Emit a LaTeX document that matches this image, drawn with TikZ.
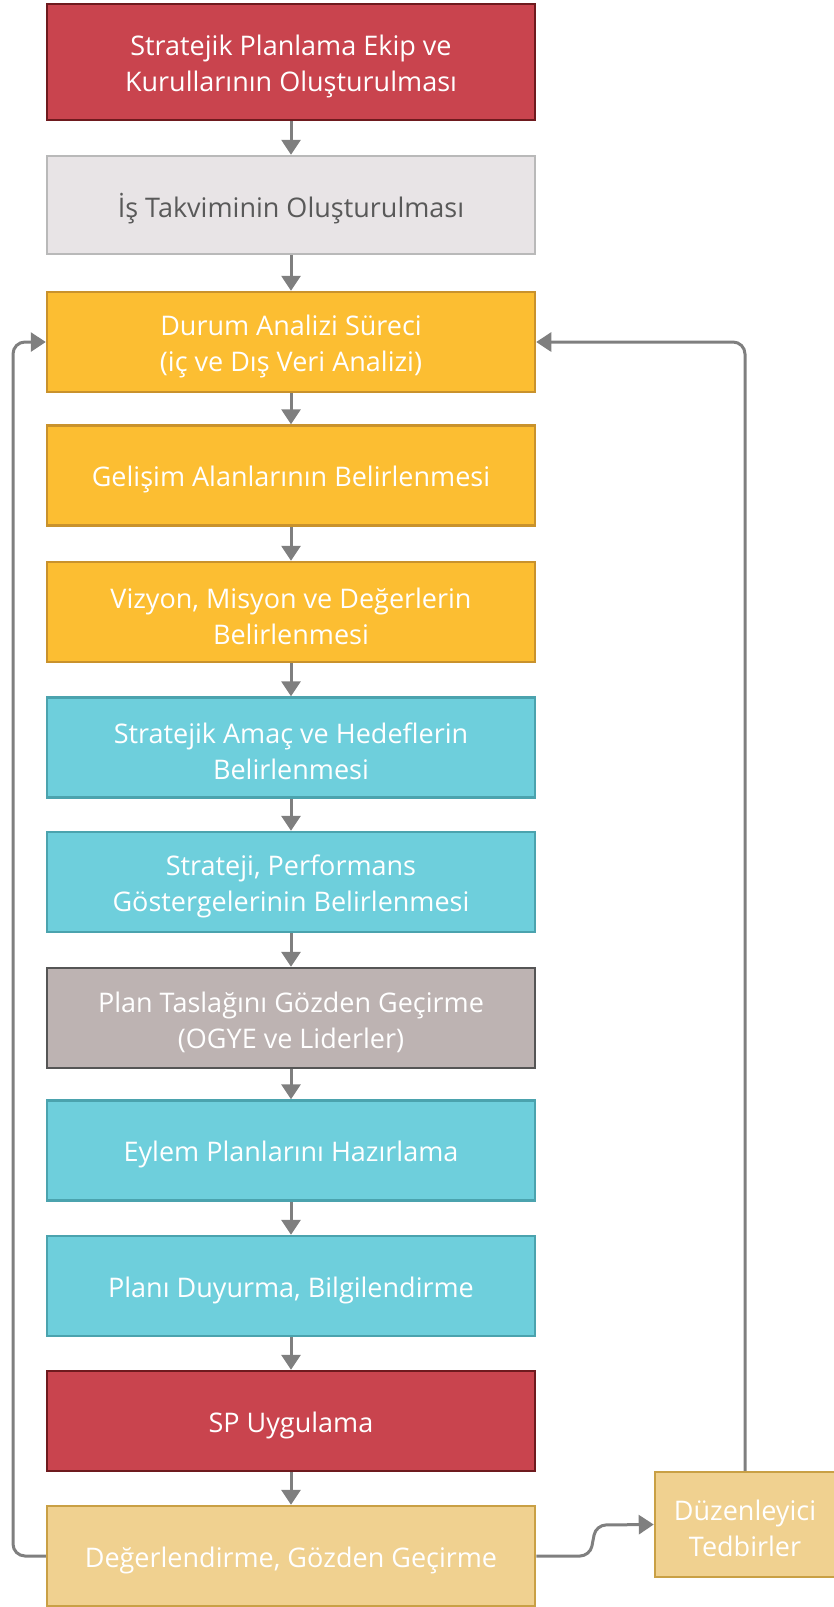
\documentclass[tikz,border=0pt]{standalone}
\usepackage{fontspec}
\setmainfont{Open Sans}
\usetikzlibrary{arrows.meta}
\definecolor{redF}{HTML}{C9444E}
\definecolor{redD}{HTML}{6E1A1E}
\definecolor{greyF}{HTML}{E8E4E6}
\definecolor{greyD}{HTML}{B9B9B9}
\definecolor{greyT}{HTML}{595959}
\definecolor{yelF}{HTML}{FCBE32}
\definecolor{yelD}{HTML}{C9922C}
\definecolor{cyaF}{HTML}{6ECFDC}
\definecolor{cyaD}{HTML}{4BA3AE}
\definecolor{brnF}{HTML}{BDB3B2}
\definecolor{brnD}{HTML}{555555}
\definecolor{palF}{HTML}{F0D190}
\definecolor{palD}{HTML}{C9A045}
\definecolor{arrC}{HTML}{7F7F7F}
\newcommand{\flowbox}[6]{%
  \node[#2, #6] (#1) at (#3) {};
  \node[txt, #2text] (#1t) at ([yshift=-4pt]#1.center) {#4};}
\begin{document}
\begin{tikzpicture}[x=1pt,y=-1pt,
  box/.style={draw, line width=2.5pt, minimum width=488pt, minimum height=100pt, inner sep=0pt},
  txt/.style={align=center, font=\fontsize{27}{36}\selectfont, text=white, inner sep=0pt},
  redbox/.style={box, fill=redF, draw=redD},
  greybox/.style={box, fill=greyF, draw=greyD},
  yelbox/.style={box, fill=yelF, draw=yelD},
  cyabox/.style={box, fill=cyaF, draw=cyaD},
  brnbox/.style={box, fill=brnF, draw=brnD},
  palbox/.style={box, fill=palF, draw=palD},
  redboxtext/.style={}, greyboxtext/.style={text=greyT}, yelboxtext/.style={},
  cyaboxtext/.style={}, brnboxtext/.style={}, palboxtext/.style={},
  arr/.style={draw=arrC, line width=3pt, -{Triangle[width=19pt,length=15pt]}}]
\useasboundingbox (0,0) rectangle (834,1607);
\flowbox{b1}{redbox}{291,62}{Stratejik Planlama Ekip ve\\Kurullarının Oluşturulması}{}{minimum height=116pt}
\flowbox{b2}{greybox}{291,205}{İş Takviminin Oluşturulması}{}{minimum height=98pt}
\flowbox{b3}{yelbox}{291,342}{Durum Analizi Süreci\\(iç ve Dış Veri Analizi)}{}{}
\flowbox{b4}{yelbox}{291,475.5}{Gelişim Alanlarının Belirlenmesi}{}{}
\flowbox{b5}{yelbox}{291,612}{Vizyon, Misyon ve Değerlerin\\Belirlenmesi}{}{}
\flowbox{b6}{cyabox}{291,747.5}{Stratejik Amaç ve Hedeflerin\\Belirlenmesi}{}{}
\flowbox{b7}{cyabox}{291,882}{Strateji, Performans\\Göstergelerinin Belirlenmesi}{}{}
\flowbox{b8}{brnbox}{291,1018}{Plan Taslağını Gözden Geçirme\\(OGYE ve Liderler)}{}{}
\flowbox{b9}{cyabox}{291,1150.5}{Eylem Planlarını Hazırlama}{}{}
\flowbox{b10}{cyabox}{291,1286}{Planı Duyurma, Bilgilendirme}{}{}
\flowbox{b11}{redbox}{291,1421}{SP Uygulama}{}{}
\flowbox{b12}{palbox}{291,1556}{Değerlendirme, Gözden Geçirme}{}{}
\flowbox{duz}{palbox}{745,1524.5}{Düzenleyici\\Tedbirler}{}{minimum width=180pt, minimum height=105pt}
\foreach \a/\b in {b1/b2,b2/b3,b3/b4,b4/b5,b5/b6,b6/b7,b7/b8,b8/b9,b9/b10,b10/b11,b11/b12}
  \draw[arr] (\a) -- (\b);
\coordinate (l1) at (13,1556);
\coordinate (l2) at (13,342);
\draw[arr, rounded corners=12pt] (b12.west) -- (l1) -- (l2) -- (b3.west);
\coordinate (r1) at (745,342);
\draw[arr, rounded corners=12pt] (duz.north) -- (r1) -- (b3.east);
\coordinate (s1) at (590,1556);
\coordinate (s2) at (596,1525);
\draw[arr, rounded corners=10pt] (b12.east) -- (s1) -- (s2) -- (duz.west);
\end{tikzpicture}
\end{document}
